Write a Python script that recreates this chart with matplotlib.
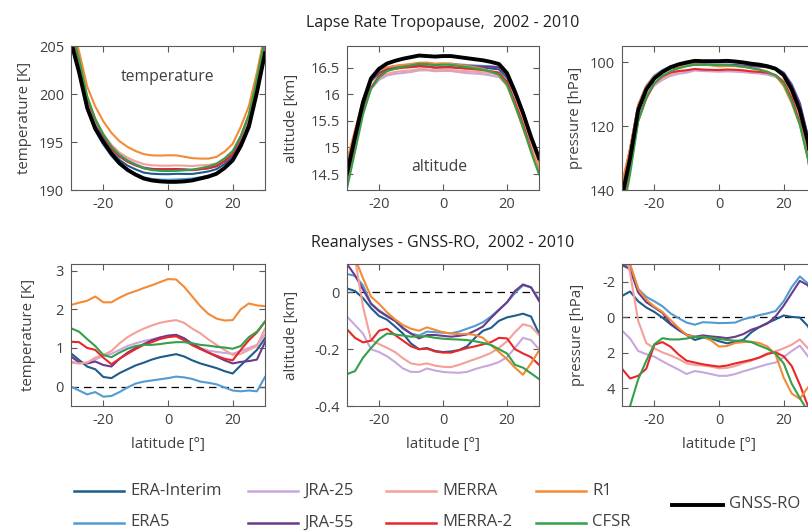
import numpy as np
import matplotlib.pyplot as plt
from matplotlib.lines import Line2D
from matplotlib.ticker import FormatStrFormatter

plt.rcParams['font.family'] = ['Open Sans', 'DejaVu Sans']
plt.rcParams['axes.unicode_minus'] = False

lat = np.arange(-30, 30.1, 2.5)

names = ["ERA-Interim", "ERA5", "JRA-25", "JRA-55", "MERRA", "MERRA-2", "R1", "CFSR"]
colors = ["#1f5c8b", "#529bd3", "#c9a7dc", "#6b3a8c", "#f4a09a", "#e8272a", "#f58a35", "#35a04a"]

# GNSS-RO lapse rate tropopause
gnss_temp = [205.5, 202.3, 198.6, 196.4, 195.0, 193.8, 192.8, 192.1, 191.6, 191.2, 191.0, 190.9, 190.85,
             190.85, 190.9, 191.0, 191.2, 191.4, 191.7, 192.3, 193.1, 194.6, 196.6, 200.2, 204.3]
gnss_alt = [14.52, 15.2, 15.85, 16.3, 16.48, 16.58, 16.63, 16.67, 16.70, 16.73, 16.72, 16.71, 16.72,
            16.72, 16.70, 16.68, 16.66, 16.64, 16.61, 16.57, 16.40, 16.05, 15.65, 15.2, 14.8]
gnss_pres = [142, 130, 115, 108.5, 105, 103, 101.5, 100.6, 100.0, 99.5, 99.6, 99.6, 99.6,
             99.5, 99.7, 100.0, 100.4, 100.7, 101.2, 102.0, 104.0, 108.5, 115, 125, 140]

# reanalysis minus GNSS-RO: temperature [K]
dT = {
    "ERA-Interim": [0.86, 0.69, 0.52, 0.45, 0.25, 0.22, 0.35, 0.45, 0.55, 0.62, 0.7, 0.76, 0.8,
                    0.84, 0.78, 0.68, 0.6, 0.54, 0.48, 0.40, 0.34, 0.55, 0.75, 0.95, 1.25],
    "ERA5": [0.0, -0.1, -0.2, -0.14, -0.26, -0.24, -0.14, -0.02, 0.08, 0.13, 0.16, 0.19, 0.22,
             0.26, 0.24, 0.2, 0.13, 0.1, 0.06, -0.02, -0.1, -0.12, -0.1, -0.12, 0.25],
    "JRA-25": [0.65, 0.6, 0.62, 0.7, 0.8, 0.85, 0.95, 1.05, 1.12, 1.18, 1.22, 1.27, 1.31,
               1.33, 1.25, 1.12, 1.0, 0.93, 0.9, 0.87, 0.85, 0.92, 1.0, 1.08, 1.35],
    "JRA-55": [0.78, 0.63, 0.6, 0.65, 0.56, 0.52, 0.72, 0.88, 1.0, 1.1, 1.2, 1.27, 1.32,
               1.34, 1.25, 1.1, 0.99, 0.88, 0.78, 0.68, 0.6, 0.64, 0.66, 0.7, 1.15],
    "MERRA": [0.62, 0.6, 0.62, 0.75, 0.82, 0.92, 1.12, 1.28, 1.4, 1.5, 1.58, 1.65, 1.69,
              1.72, 1.65, 1.5, 1.38, 1.22, 1.08, 0.95, 0.82, 0.85, 0.95, 1.05, 1.5],
    "MERRA-2": [1.16, 1.15, 1.0, 0.95, 0.75, 0.58, 0.72, 0.85, 0.97, 1.08, 1.15, 1.23, 1.28,
                1.3, 1.2, 1.07, 0.97, 0.88, 0.8, 0.72, 0.68, 0.95, 1.2, 1.4, 1.68],
    "R1": [2.11, 2.17, 2.22, 2.33, 2.18, 2.18, 2.30, 2.40, 2.47, 2.55, 2.62, 2.70, 2.78,
           2.77, 2.58, 2.33, 2.08, 1.88, 1.76, 1.71, 1.72, 2.0, 2.15, 2.10, 2.08],
    "CFSR": [1.51, 1.42, 1.23, 1.05, 0.82, 0.76, 0.88, 0.98, 1.05, 1.08, 1.08, 1.1, 1.13,
             1.15, 1.15, 1.12, 1.08, 1.06, 1.03, 1.01, 0.98, 1.05, 1.28, 1.42, 1.68],
}

# reanalysis minus GNSS-RO: altitude [km]
dZ = {
    "ERA-Interim": [0.014, 0.005, -0.02, -0.055, -0.083, -0.096, -0.12, -0.145, -0.18, -0.2, -0.196, -0.206, -0.21,
                    -0.208, -0.203, -0.19, -0.16, -0.135, -0.125, -0.1, -0.088, -0.082, -0.075, -0.085, -0.145],
    "ERA5": [0.065, 0.058, 0.025, -0.039, -0.063, -0.082, -0.1, -0.128, -0.145, -0.152, -0.138, -0.14, -0.142,
             -0.144, -0.138, -0.128, -0.118, -0.105, -0.085, -0.06, -0.035, -0.002, 0.025, 0.018, -0.025],
    "JRA-25": [-0.085, -0.115, -0.145, -0.2, -0.21, -0.225, -0.245, -0.268, -0.28, -0.28, -0.268, -0.275, -0.28,
               -0.282, -0.283, -0.28, -0.27, -0.262, -0.255, -0.245, -0.228, -0.195, -0.16, -0.168, -0.2],
    "JRA-55": [0.1, 0.06, 0.01, -0.04, -0.066, -0.084, -0.1, -0.125, -0.145, -0.162, -0.15, -0.15, -0.153,
               -0.156, -0.153, -0.148, -0.135, -0.12, -0.09, -0.062, -0.035, 0.005, 0.028, 0.018, -0.03],
    "MERRA": [0.25, 0.12, -0.05, -0.167, -0.182, -0.195, -0.21, -0.232, -0.25, -0.255, -0.25, -0.258, -0.262,
              -0.263, -0.255, -0.245, -0.235, -0.225, -0.213, -0.195, -0.172, -0.14, -0.112, -0.12, -0.15],
    "MERRA-2": [-0.13, -0.16, -0.176, -0.17, -0.135, -0.128, -0.15, -0.17, -0.19, -0.2, -0.198, -0.208, -0.212,
                -0.212, -0.204, -0.196, -0.19, -0.183, -0.175, -0.16, -0.162, -0.2, -0.215, -0.228, -0.255],
    "R1": [0.2, 0.12, 0.05, -0.015, -0.04, -0.07, -0.095, -0.115, -0.128, -0.135, -0.123, -0.132, -0.14,
           -0.145, -0.147, -0.146, -0.15, -0.16, -0.186, -0.21, -0.235, -0.265, -0.29, -0.25, -0.205],
    "CFSR": [-0.288, -0.277, -0.23, -0.196, -0.165, -0.145, -0.148, -0.152, -0.156, -0.155, -0.155, -0.16, -0.163,
             -0.165, -0.166, -0.168, -0.172, -0.178, -0.185, -0.2, -0.215, -0.255, -0.265, -0.285, -0.305],
}

# reanalysis minus GNSS-RO: pressure [hPa]
dP = {
    "ERA-Interim": [-1.2, -1.45, -0.9, -0.55, -0.3, 0.02, 0.4, 0.72, 1.0, 1.28, 1.15, 1.2, 1.35,
                    1.47, 1.38, 1.28, 0.85, 0.55, 0.32, 0.12, -0.1, -0.02, 0.02, 0.5, 1.5],
    "ERA5": [-2.9, -2.9, -1.6, -1.15, -0.9, -0.62, -0.22, 0.05, 0.3, 0.42, 0.28, 0.3, 0.33,
             0.32, 0.3, 0.12, 0.0, -0.12, -0.22, -0.35, -0.9, -1.7, -2.3, -1.9, -1.0],
    "JRA-25": [0.75, 1.2, 1.9, 2.08, 2.22, 2.48, 2.72, 2.95, 3.2, 3.03, 3.1, 3.2, 3.3,
               3.3, 3.2, 3.05, 2.92, 2.78, 2.65, 2.55, 2.25, 1.9, 1.6, 2.2, 2.8],
    "JRA-55": [-2.95, -2.7, -1.4, -0.85, -0.55, -0.25, 0.35, 0.7, 0.98, 1.1, 1.02, 1.08, 1.12,
               1.18, 1.1, 0.95, 0.7, 0.55, 0.35, -0.05, -0.65, -1.35, -2.05, -1.8, -0.9],
    "MERRA": [-4.5, -2.5, 0.2, 1.45, 1.75, 1.98, 2.15, 2.35, 2.6, 2.68, 2.72, 2.78, 2.88,
              2.85, 2.75, 2.58, 2.45, 2.27, 2.1, 1.92, 1.75, 1.55, 1.25, 1.75, 2.3],
    "MERRA-2": [2.9, 3.45, 3.3, 2.9, 1.55, 1.4, 1.66, 2.1, 2.45, 2.55, 2.65, 2.72, 2.78,
                2.72, 2.6, 2.5, 2.4, 2.27, 2.05, 1.98, 2.2, 2.75, 3.8, 5.0, 6.0],
    "R1": [-3.8, -3.0, -1.6, -1.0, -0.6, -0.3, 0.15, 0.6, 1.0, 1.12, 1.1, 1.3, 1.65,
           1.62, 1.45, 1.4, 1.38, 1.45, 1.65, 2.1, 3.4, 4.3, 4.6, 3.95, 3.5],
    "CFSR": [6.5, 5.0, 3.5, 2.45, 1.52, 1.18, 1.25, 1.25, 1.2, 1.1, 1.12, 1.15, 1.22,
             1.28, 1.32, 1.32, 1.4, 1.6, 1.78, 2.05, 2.6, 3.75, 4.55, 5.3, 6.0],
}

W, H = 808, 531
fig = plt.figure(figsize=(W / 100, H / 100), dpi=100)

TXT = "#404040"
FRAME = "#5a5a5a"
FS = 10.5      # tick labels
LFS = 10.8     # axis labels
NOTE_FS = 11.3
LEG_FS = 12


def px_axes(left, top, width, height):
    return fig.add_axes([left / W, 1 - (top + height) / H, width / W, height / H])


def style(ax, ylabel, ylab_x):
    ax.set_xlim(-30, 30)
    ax.set_xticks([-20, 0, 20])
    ax.tick_params(direction="in", top=True, right=True, length=4, width=0.8,
                   colors=FRAME, labelcolor=TXT, labelsize=FS, pad=5)
    for s in ax.spines.values():
        s.set_color(FRAME)
        s.set_linewidth(0.8)
    ax.set_ylabel(ylabel, color=TXT, fontsize=LFS)
    ax.yaxis.set_label_coords(ylab_x, 0.5)
    ax.yaxis.set_major_formatter(FormatStrFormatter("%g"))


lefts = [71, 347, 622]
ax_t = px_axes(lefts[0], 46.5, 194, 143.5)
ax_z = px_axes(lefts[1], 46.5, 192, 143.5)
ax_p = px_axes(lefts[2], 46.5, 194, 143.5)
bx_t = px_axes(lefts[0], 264, 194, 142)
bx_z = px_axes(lefts[1], 264, 192, 142)
bx_p = px_axes(lefts[2], 264, 194, 142)

top_sets = [(ax_t, gnss_temp, dT), (ax_z, gnss_alt, dZ), (ax_p, gnss_pres, dP)]
for ax, ref, diff in top_sets:
    for name, c in zip(names, colors):
        ax.plot(lat, np.array(ref) + np.array(diff[name]), color=c, lw=1.5)
    ax.plot(lat, ref, color="black", lw=2.8)

for ax, diff in [(bx_t, dT), (bx_z, dZ), (bx_p, dP)]:
    ax.axhline(0, color="black", lw=0.9, ls=(0, (6, 4)), zorder=1)
    for name, c in zip(names, colors):
        ax.plot(lat, diff[name], color=c, lw=1.5)
    ax.set_xlabel("latitude [°]", color=TXT, fontsize=LFS)
    ax.xaxis.set_label_coords(0.5, -0.22)

style(ax_t, "temperature [K]", -0.2)
ax_t.set_ylim(190, 205)
ax_t.set_yticks([190, 195, 200, 205])
ax_t.text(0.5, 0.79, "temperature", transform=ax_t.transAxes, ha="center", va="center",
          color=TXT, fontsize=NOTE_FS)

style(ax_z, "altitude [km]", -0.25)
ax_z.set_ylim(14.2, 16.9)
ax_z.set_yticks([14.5, 15, 15.5, 16, 16.5])
ax_z.text(0.48, 0.16, "altitude", transform=ax_z.transAxes, ha="center", va="center",
          color=TXT, fontsize=NOTE_FS)
ax_z.set_title("Lapse Rate Tropopause,  2002 - 2010", color="#202020", fontsize=11.5, pad=14)

style(ax_p, "pressure [hPa]", -0.2)
ax_p.set_ylim(140, 95)
ax_p.set_yticks([100, 120, 140])

style(bx_t, "temperature [K]", -0.18)
bx_t.set_ylim(-0.5, 3.17)
bx_t.set_yticks([0, 1, 2, 3])

style(bx_z, "altitude [km]", -0.25)
bx_z.set_ylim(-0.4, 0.1)
bx_z.set_yticks([-0.4, -0.2, 0])
bx_z.set_title("Reanalyses - GNSS-RO,  2002 - 2010", color="#202020", fontsize=11.5, pad=12)

style(bx_p, "pressure [hPa]", -0.19)
bx_p.set_ylim(5, -3)
bx_p.set_yticks([-2, 0, 2, 4])

# legend, drawn by hand in figure pixels
leg_x = [74, 248, 386, 536]
leg_y = [491, 522.5]
for i, (name, c) in enumerate(zip(names, colors)):
    x0 = leg_x[i // 2]
    y = leg_y[i % 2]
    fig.add_artist(Line2D([x0 / W, (x0 + 50) / W], [1 - y / H, 1 - y / H], color=c, lw=1.8))
    fig.text((x0 + 56) / W, 1 - y / H, name, color=TXT, fontsize=LEG_FS, va="center")
fig.add_artist(Line2D([672 / W, 723 / W], [1 - 504.5 / H, 1 - 504.5 / H], color="black", lw=2.8))
fig.text(729 / W, 1 - 504.5 / H, "GNSS-RO", color=TXT, fontsize=LEG_FS, va="center")

fig.savefig("out.png", dpi=100)
